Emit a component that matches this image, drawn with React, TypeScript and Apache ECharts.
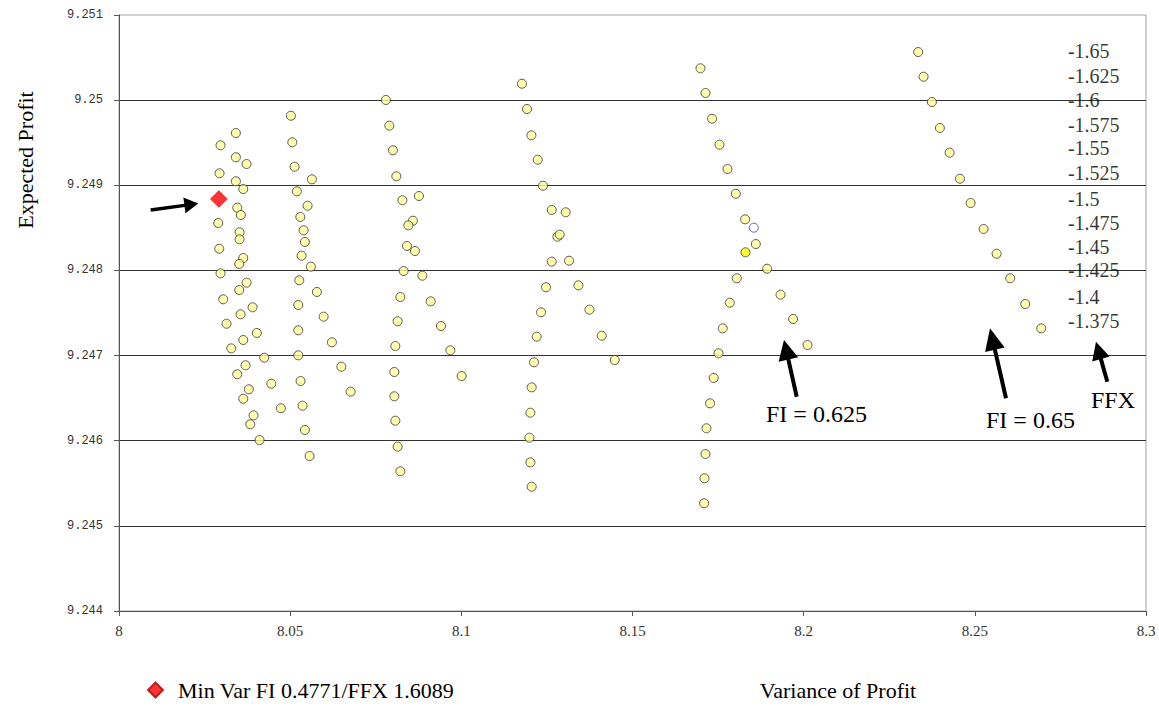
import { useEffect, useRef } from "react";
import * as echarts from "echarts";

// ---- data (Variance of Profit, Expected Profit) ----
const cluster1: number[][] = [
  [8.03414, 9.249614], [8.02966, 9.24947], [8.03414, 9.249329], [8.03726, 9.24925],
  [8.02937, 9.249141], [8.03414, 9.249047], [8.0363, 9.248956], [8.03454, 9.248737],
  [8.0356, 9.248651], [8.02899, 9.248557], [8.03522, 9.248448], [8.03522, 9.248366],
  [8.02928, 9.248255], [8.0363, 9.248146], [8.03513, 9.248076], [8.02966, 9.247966],
  [8.03726, 9.247856], [8.03513, 9.24777], [8.03045, 9.247661], [8.03902, 9.247567],
  [8.03551, 9.247485], [8.03142, 9.247374], [8.04027, 9.247265], [8.0363, 9.247183],
  [8.03279, 9.247085], [8.04243, 9.246975], [8.03697, 9.246886], [8.03454, 9.24678],
  [8.04448, 9.24667], [8.03793, 9.246604], [8.0363, 9.246493], [8.04729, 9.246381],
  [8.03931, 9.246298], [8.03834, 9.246193], [8.04106, 9.246008],
];
const cluster2: number[][] = [
  [8.05021, 9.249817], [8.05062, 9.249505], [8.05129, 9.249218], [8.05635, 9.24907],
  [8.05196, 9.248929], [8.05509, 9.24876], [8.05296, 9.248628], [8.05392, 9.248471],
  [8.0543, 9.248334], [8.05334, 9.248173], [8.05605, 9.248044], [8.05266, 9.247884],
  [8.05781, 9.247747], [8.05237, 9.247594], [8.05977, 9.247457], [8.05237, 9.247297],
  [8.06219, 9.247156], [8.05237, 9.247003], [8.06494, 9.246869], [8.05304, 9.246701],
  [8.06766, 9.246576], [8.05363, 9.246411], [8.0543, 9.246126], [8.05567, 9.24582],
];
const cluster3: number[][] = [
  [8.07797, 9.250002], [8.07897, 9.2497], [8.08002, 9.249411], [8.08101, 9.249106],
  [8.08762, 9.248874], [8.08277, 9.248824], [8.08586, 9.248584], [8.08452, 9.24853],
  [8.08411, 9.248287], [8.08645, 9.248228], [8.08315, 9.247993], [8.08861, 9.247938],
  [8.08218, 9.247688], [8.09104, 9.247637], [8.08139, 9.247403], [8.09405, 9.247347],
  [8.08072, 9.247112], [8.09679, 9.247062], [8.08043, 9.246807], [8.1001, 9.24676],
  [8.08043, 9.246522], [8.08072, 9.246235], [8.08139, 9.24593], [8.08218, 9.245641],
];
const cluster4: number[][] = [
  [8.11772, 9.250193], [8.11918, 9.249896], [8.12047, 9.249587], [8.12231, 9.2493],
  [8.12386, 9.248995], [8.1264, 9.24871], [8.13049, 9.248683], [8.12806, 9.248396],
  [8.12874, 9.24842], [8.1264, 9.248103], [8.13145, 9.248114], [8.12473, 9.247802],
  [8.1342, 9.247825], [8.12327, 9.247508], [8.13742, 9.247539], [8.12201, 9.247222],
  [8.14101, 9.247233], [8.12123, 9.246921], [8.14481, 9.246948], [8.12055, 9.246627],
  [8.12017, 9.246329], [8.11988, 9.246035], [8.12017, 9.245746], [8.12055, 9.24546],
];
const cluster5: number[][] = [
  [8.16986, 9.250374], [8.17132, 9.250084], [8.17325, 9.249782], [8.17541, 9.249477],
  [8.17775, 9.249191], [8.18017, 9.248901], [8.18289, 9.2486], [8.18602, 9.24831],
  [8.18932, 9.24802], [8.18047, 9.247908], [8.19324, 9.247715], [8.17842, 9.247621],
  [8.19692, 9.24743], [8.17637, 9.24732], [8.20113, 9.247124], [8.17512, 9.247027],
  [8.17374, 9.246737], [8.17266, 9.246439], [8.17161, 9.246146], [8.17132, 9.245844],
  [8.17103, 9.245559], [8.17091, 9.245265],
];
const cluster5Outlined: number[] = [8.18543, 9.248502];
const cluster5Highlighted: number[] = [8.18301, 9.248213];
const cluster6: number[][] = [
  [8.23345, 9.250565], [8.23503, 9.250275], [8.23745, 9.249978], [8.23979, 9.249673],
  [8.24263, 9.249383], [8.24564, 9.249077], [8.24876, 9.248792], [8.25256, 9.248487],
  [8.25636, 9.248196], [8.26034, 9.247908], [8.26472, 9.247606], [8.2694, 9.24732],
];
const minVarPoint: number[] = [8.02917, 9.248839];
const minVarName = "Min Var FI 0.4771/FFX 1.6089";

const ffxLabels = ["-1.65", "-1.625", "-1.6", "-1.575", "-1.55", "-1.525", "-1.5", "-1.475", "-1.45", "-1.425", "-1.4", "-1.375"];
const ffxLabelX = 8.2772;
const ffxLabelY = [9.250581, 9.250287, 9.250002, 9.249708, 9.249434, 9.249141, 9.248835, 9.248561, 9.248272, 9.248005, 9.247691, 9.247406];

const xMin = 8, xMax = 8.3, xStep = 0.05;
const yMin = 9.244, yMax = 9.251, yStep = 0.001;

const SERIF = "'Liberation Serif', 'Times New Roman', serif";

function arrow(tail: number[], tip: number[], headLen: number, headW: number, lw: number) {
  const dx = tip[0] - tail[0], dy = tip[1] - tail[1];
  const len = Math.hypot(dx, dy);
  const ux = dx / len, uy = dy / len;
  const bx = tip[0] - ux * headLen, by = tip[1] - uy * headLen;
  const px = -uy, py = ux;
  return [
    { type: "line", shape: { x1: tail[0], y1: tail[1], x2: bx + ux * 2, y2: by + uy * 2 }, style: { stroke: "#000", lineWidth: lw }, z: 50 },
    {
      type: "polygon",
      shape: { points: [[tip[0], tip[1]], [bx + px * headW / 2, by + py * headW / 2], [bx - px * headW / 2, by - py * headW / 2]] },
      style: { fill: "#000" },
      z: 50,
    },
  ];
}

const pointStyle = { color: "#ffff99", borderColor: "#333", borderWidth: 1 };

export default function App() {
  const ref = useRef<HTMLDivElement>(null);
  useEffect(() => {
    const chart = echarts.init(ref.current!, null, { renderer: "svg" });
    const clusterSeries = [cluster1, cluster2, cluster3, cluster4, cluster5, cluster6].map((d, i) => ({
      name: "cluster" + (i + 1),
      type: "scatter",
      symbol: "circle",
      symbolSize: 9,
      itemStyle: pointStyle,
      data: i === 4
        ? [
            ...d,
            { value: cluster5Outlined, itemStyle: { color: "#ffffff", borderColor: "#4040a0", borderWidth: 1 } },
            { value: cluster5Highlighted, itemStyle: { color: "#ffff00", borderColor: "#333", borderWidth: 1 } },
          ]
        : d,
      z: 3,
    }));
    chart.setOption({
      animation: false,
      backgroundColor: "#ffffff",
      grid: { left: 119, right: 13, top: 15, bottom: 95, show: true, borderColor: "#a0a0a0", borderWidth: 1 },
      legend: {
        data: [minVarName],
        left: 147,
        top: 678,
        icon: "diamond",
        itemWidth: 15,
        itemHeight: 15,
        padding: 0,
        textStyle: { fontFamily: SERIF, fontSize: 22, lineHeight: 24, color: "#000", padding: [0, 0, 0, 10] },
      },
      xAxis: {
        type: "value",
        min: xMin,
        max: xMax,
        interval: xStep,
        axisLine: { lineStyle: { color: "#555", width: 1 } },
        axisTick: { show: true, length: 5, lineStyle: { color: "#555" } },
        axisLabel: { fontFamily: SERIF, fontSize: 15, color: "#333", margin: 12 },
        splitLine: { show: false },
      },
      yAxis: {
        type: "value",
        min: yMin,
        max: yMax,
        interval: yStep,
        axisLine: { show: true, lineStyle: { color: "#555", width: 1 } },
        axisTick: { show: true, length: 5, lineStyle: { color: "#555" } },
        axisLabel: { fontFamily: "'Liberation Mono', 'DejaVu Sans Mono', monospace", fontSize: 12, color: "#333", margin: 16 },
        splitLine: { show: true, showMinLine: false, showMaxLine: false, lineStyle: { color: "#333", width: 1 } },
      },
      series: [
        ...clusterSeries,
        {
          name: minVarName,
          type: "scatter",
          symbol: "diamond",
          symbolSize: 17,
          itemStyle: { color: "#ff0000", borderColor: "#b00000", borderWidth: 0.5 },
          data: [minVarPoint],
          z: 5,
        },
        {
          name: "FFX",
          type: "scatter",
          symbolSize: 0,
          silent: true,
          data: ffxLabels.map((t, i) => ({ name: t, value: [ffxLabelX, ffxLabelY[i]] })),
          label: {
            show: true,
            position: "right",
            distance: 0,
            formatter: (p: any) => p.name,
            fontFamily: SERIF,
            fontSize: 20,
            color: "#000",
          },
          z: 4,
        },
      ],
      graphic: [
        {
          type: "text",
          x: 25,
          y: 160,
          rotation: Math.PI / 2,
          style: { text: "Expected Profit", fontFamily: SERIF, fontSize: 22, fill: "#000", align: "center", verticalAlign: "middle" },
        },
        {
          type: "text",
          x: 838,
          y: 690,
          style: { text: "Variance of Profit", fontFamily: SERIF, fontSize: 22, fill: "#000", align: "center", verticalAlign: "middle" },
        },
        { type: "text", x: 766, y: 414, style: { text: "FI = 0.625", fontFamily: SERIF, fontSize: 24, fill: "#000", align: "left", verticalAlign: "middle" } },
        { type: "text", x: 986, y: 420, style: { text: "FI = 0.65", fontFamily: SERIF, fontSize: 24, fill: "#000", align: "left", verticalAlign: "middle" } },
        { type: "text", x: 1091, y: 400, style: { text: "FFX", fontFamily: SERIF, fontSize: 24, fill: "#000", align: "left", verticalAlign: "middle" } },
        ...arrow([150.7, 210], [198.3, 203.5], 14, 16, 3.5),
        ...arrow([796.7, 396.7], [784, 340], 20, 20, 4),
        ...arrow([1006, 398.3], [990, 328.3], 22, 20, 4),
        ...arrow([1107.3, 381.7], [1096, 341.7], 18, 18, 4),
      ],
    });
    return () => chart.dispose();
  }, []);
  return (
    <div
      ref={ref}
      style={{ position: "fixed", left: 0, top: 0, width: 1159, height: 706, background: "#fff" }}
    />
  );
}
